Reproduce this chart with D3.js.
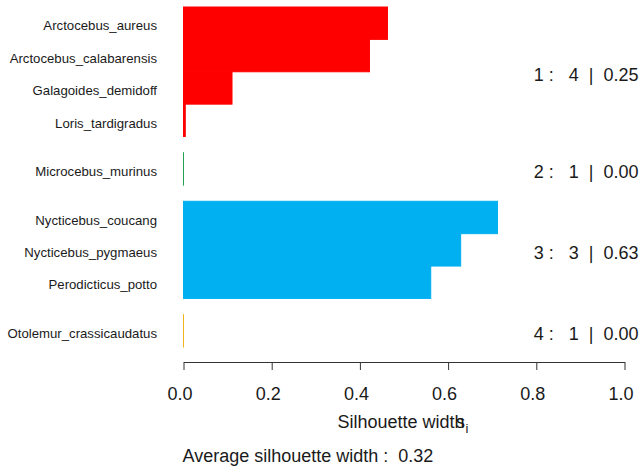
<!DOCTYPE html>
<html>
<head>
<meta charset="utf-8">
<script src="https://cdn.jsdelivr.net/npm/d3@7"></script>
<style>
  html, body { margin: 0; padding: 0; background: #fff; }
  svg { display: block; font-family: "Liberation Sans", Arial, Helvetica, sans-serif; }
</style>
</head>
<body>
<svg id="chart" width="641" height="475"></svg>
<script>
// ---- data ----
const names = [
  "Arctocebus_aureus", "Arctocebus_calabarensis", "Galagoides_demidoff", "Loris_tardigradus",
  "Microcebus_murinus",
  "Nycticebus_coucang", "Nycticebus_pygmaeus", "Perodicticus_potto",
  "Otolemur_crassicaudatus"
];
const widths = [0.4625, 0.4217, 0.110, 0.004, 0.0, 0.712, 0.6285, 0.5606, 0.0];
const clusters = [1, 1, 1, 1, 2, 3, 3, 3, 4];
const clusterIds = [1, 2, 3, 4];
const clusterSizes = [4, 1, 3, 1];
const clusterAvg = ["0.25", "0.00", "0.63", "0.00"];
const clusterColors = ["#FF0000", "#1FA14F", "#00B0F0", "#F2B21B"];
const xTicks = [0, 0.2, 0.4, 0.6, 0.8, 1.0];
const avgWidth = "0.32";

// ---- layout ----
const svg = d3.select("#chart");
const x = d3.scaleLinear().domain([0, 1]).range([183.5, 624.5]);

// row offsets: bars of 1 unit, 0.5 unit gap between clusters
const offsets = [];
let off = 0;
widths.forEach((w, i) => {
  if (i > 0 && clusters[i] !== clusters[i - 1]) off += 0.5;
  offsets.push(off);
  off += 1;
});
const totalUnits = off;
const y = d3.scaleLinear().domain([0, totalUnits]).range([7, 347]);
const color = d3.scaleOrdinal().domain(clusterIds).range(clusterColors);

// bars (border drawn in the fill colour, so zero-width bars show as a line)
svg.append("g").selectAll("rect")
  .data(widths)
  .join("rect")
  .attr("x", x(0))
  .attr("y", (d, i) => y(offsets[i]))
  .attr("width", d => Math.max(0.01, x(d) - x(0)))
  .attr("height", (d, i) => y(offsets[i] + 1) - y(offsets[i]))
  .attr("fill", (d, i) => color(clusters[i]))
  .attr("stroke", (d, i) => color(clusters[i]))
  .attr("stroke-width", 1);

// row names
svg.append("g").selectAll("text")
  .data(names)
  .join("text")
  .attr("x", 157)
  .attr("y", (d, i) => y(offsets[i] + 0.5) + 2.5)
  .attr("dy", "0.36em")
  .attr("text-anchor", "end")
  .attr("font-size", 13.2)
  .attr("fill", "#1a1a1a")
  .text(d => d);

// cluster statistics on the right
svg.append("g").selectAll("text")
  .data(clusterIds)
  .join("text")
  .attr("x", 638.5)
  .attr("y", (c, k) => {
    const idx = clusters.map((v, i) => v === c ? i : -1).filter(i => i >= 0);
    const top = y(offsets[idx[0]]);
    const bot = y(offsets[idx[idx.length - 1]] + 1);
    return (top + bot) / 2 + 3;
  })
  .attr("dy", "0.36em")
  .attr("text-anchor", "end")
  .attr("font-size", 18)
  .attr("fill", "#1a1a1a")
  .style("white-space", "pre")
  .text((c, k) => `${c} :   ${clusterSizes[k]}  |  ${clusterAvg[k]}`);

// x axis
const axis = svg.append("g")
  .attr("transform", "translate(0,362)")
  .call(d3.axisBottom(x).tickValues(xTicks).tickSize(8).tickSizeOuter(0)
    .tickPadding(17.7).tickFormat(d3.format(".1f")));
axis.select(".domain").attr("stroke", "#333");
axis.selectAll(".tick line").attr("stroke", "#333");
axis.selectAll(".tick text")
  .attr("font-size", 18)
  .attr("font-family", "Liberation Sans, Arial, sans-serif")
  .attr("fill", "#1a1a1a")
  .attr("dx", -4);

// axis title  "Silhouette width s_i"
const title = svg.append("text")
  .attr("x", 337.5)
  .attr("y", 428)
  .attr("font-size", 18)
  .attr("fill", "#1a1a1a");
title.append("tspan").text("Silhouette width");
title.append("tspan").attr("x", 456).text("s");
title.append("tspan").attr("x", 465.5).attr("dy", 5).attr("font-size", 13).text("i");

// average silhouette width
svg.append("text")
  .attr("x", 182.5)
  .attr("y", 461.5)
  .attr("font-size", 18)
  .attr("fill", "#1a1a1a")
  .style("white-space", "pre")
  .text(`Average silhouette width :  ${avgWidth}`);
</script>
</body>
</html>
